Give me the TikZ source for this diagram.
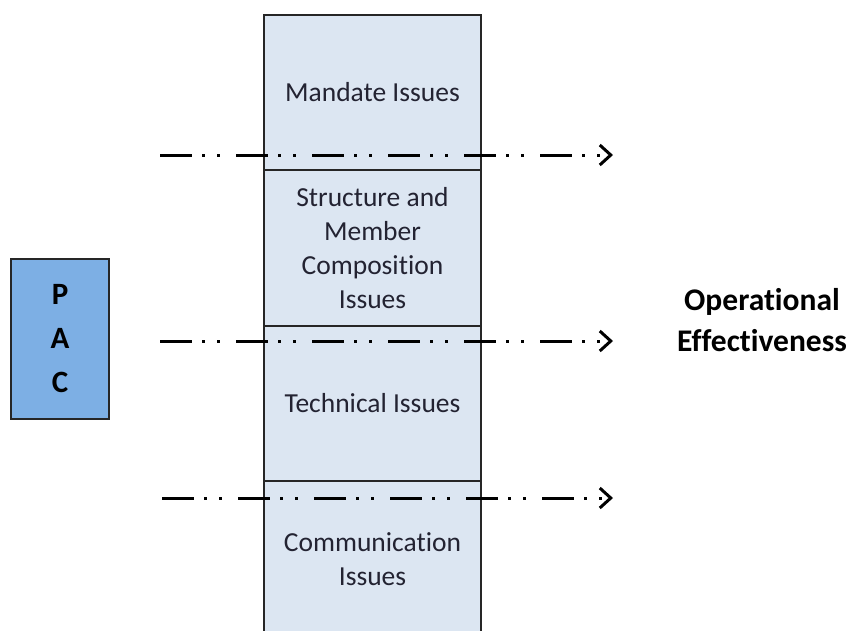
\documentclass[tikz,border=0pt]{standalone}
\usepackage{fontspec}
\setmainfont[Ligatures=CommonOff]{Carlito}
\usetikzlibrary{arrows.meta}

\definecolor{issuefill}{RGB}{220,230,242}
\definecolor{pacfill}{RGB}{125,175,228}
\definecolor{issuetext}{RGB}{35,35,50}

\tikzset{>=latex}

\begin{document}
\begin{tikzpicture}[x=1pt,y=-1pt]

	\tikzstyle{issue_box} = [rectangle, draw=black!85, line width=1.8pt, fill=issuefill, minimum width=217pt, minimum height=155.5pt, inner sep=0pt, align=center, text=issuetext, font=\fontsize{27.5}{34}\selectfont]
	\tikzstyle{pac_box} = [rectangle, draw=black!85, line width=2pt, fill=pacfill, minimum width=98pt, minimum height=160pt, align=center, font=\bfseries\fontsize{31}{44}\selectfont]
	\tikzstyle{flow_arrow} = [line width=3pt, dash pattern=on 32pt off 10pt on 3pt off 12pt on 3pt off 16pt, -{Straight Barb[length=11pt,width=20pt]}]

	\useasboundingbox (0,0) rectangle (855,630);

%------------------------------------------------------------
	\node[pac_box] (pac) at (60,339) {P\\A\\C};

%------------------------------------------------------------

	\node[issue_box] (mandate) at (372.5,92.5) {Mandate Issues};
	\node[issue_box] (structure) at (372.5,248) {Structure and\\Member\\Composition\\Issues};
	\node[issue_box] (technical) at (372.5,403.5) {Technical Issues};
	\node[issue_box] (communication) at (372.5,559) {Communication\\Issues};

%------------------------------------------------------------

	\node[align=center, font=\bfseries\fontsize{31.5}{41}\selectfont] (effect) at (762,320) {Operational\\Effectiveness};

%------------------------------------------------------------

	\coordinate (m_in) at (160,155);
	\coordinate (m_out) at (613,155);
	\coordinate (t_in) at (160,341);
	\coordinate (t_out) at (613,341);
	\coordinate (c_in) at (162,498);
	\coordinate (c_out) at (613,498);

	\draw[flow_arrow] (m_in) -- (m_out);
	\draw[flow_arrow] (t_in) -- (t_out);
	\draw[flow_arrow] (c_in) -- (c_out);

\end{tikzpicture}
\end{document}
